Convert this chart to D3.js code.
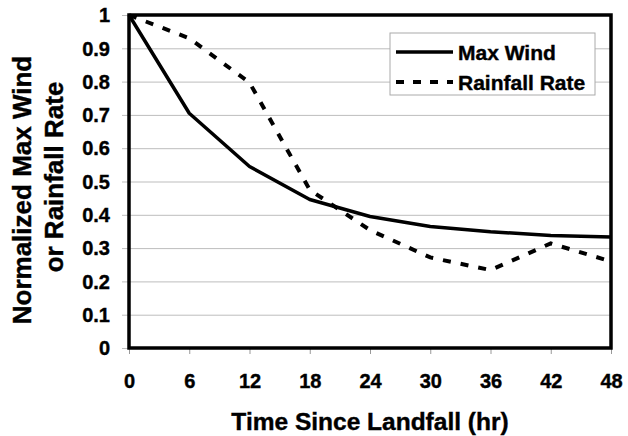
<!DOCTYPE html>
<html>
<head>
<meta charset="utf-8">
<script src="https://cdn.jsdelivr.net/npm/d3@7"></script>
<style>
  body { margin: 0; background: #fff; }
  text { font-family: "Liberation Sans", Arial, sans-serif; font-weight: bold; fill: #000; stroke: #000; stroke-width: 0.4px; }
</style>
</head>
<body>
<svg id="chart"></svg>
<script>
// data
const hours = [0, 6, 12, 18, 24, 30, 36, 42, 48];
const maxWind = [1.0, 0.705, 0.545, 0.446, 0.395, 0.365, 0.349, 0.338, 0.333];
const rainfallRate = [1.0, 0.93, 0.797, 0.475, 0.354, 0.272, 0.234, 0.314, 0.26];
const yTicks = [0, 0.1, 0.2, 0.3, 0.4, 0.5, 0.6, 0.7, 0.8, 0.9, 1];
const seriesNames = ['Max Wind', 'Rainfall Rate'];

const width = 628, height = 436;
const margin = { top: 15, right: 17, bottom: 88, left: 129 };
const innerW = width - margin.left - margin.right;
const innerH = height - margin.top - margin.bottom;

const svg = d3.select('#chart')
  .attr('width', width)
  .attr('height', height);

const x = d3.scaleLinear().domain([0, 48]).range([0, innerW]);
const y = d3.scaleLinear().domain([0, 1]).range([innerH, 0]);

const g = svg.append('g')
  .attr('transform', `translate(${margin.left},${margin.top})`);

// gridlines + left tick marks
g.append('g')
  .call(d3.axisLeft(y).tickValues(yTicks).tickSize(-innerW - 7).tickFormat(''))
  .attr('transform', 'translate(-7,0)')
  .call(a => a.select('.domain').remove())
  .call(a => a.selectAll('line').attr('stroke', '#bdbdbd').attr('stroke-width', 1));

// y tick labels
g.append('g')
  .selectAll('text')
  .data(yTicks)
  .join('text')
  .attr('x', -19)
  .attr('y', d => y(d))
  .attr('dy', '0.36em')
  .attr('text-anchor', 'end')
  .style('font-size', '20px')
  .text(d => d3.format('~g')(d));

// x axis ticks + labels
g.append('g')
  .attr('transform', `translate(0,${innerH})`)
  .call(d3.axisBottom(x).tickValues(hours).tickSize(6).tickPadding(20).tickFormat(d3.format('d')))
  .call(a => a.select('.domain').remove())
  .call(a => a.selectAll('line').attr('stroke', '#999').attr('stroke-width', 1))
  .call(a => a.selectAll('text')
    .style('font-size', '20px')
    .style('font-family', '"Liberation Sans", Arial, sans-serif')
    .style('font-weight', 'bold')
    .attr('fill', '#000'));

// lines
const line = d3.line()
  .x((d, i) => x(hours[i]))
  .y(d => y(d));

g.append('path')
  .datum(maxWind)
  .attr('d', line)
  .attr('fill', 'none')
  .attr('stroke', '#000')
  .attr('stroke-width', 3.5)
  .attr('stroke-linejoin', 'round');

g.append('path')
  .datum(rainfallRate)
  .attr('d', line)
  .attr('fill', 'none')
  .attr('stroke', '#000')
  .attr('stroke-width', 4)
  .attr('stroke-dasharray', '8,10');

// plot frame
g.append('rect')
  .attr('x', 0)
  .attr('y', 0)
  .attr('width', innerW)
  .attr('height', innerH)
  .attr('fill', 'none')
  .attr('stroke', '#000')
  .attr('stroke-width', 3.5);

// legend
const legend = svg.append('g').attr('transform', 'translate(390,33)');
legend.append('rect')
  .attr('width', 205)
  .attr('height', 62)
  .attr('fill', '#fff')
  .attr('stroke', '#aaa')
  .attr('stroke-width', 1);

const legendRows = legend.selectAll('g.row')
  .data(seriesNames)
  .join('g')
  .attr('class', 'row')
  .attr('transform', (d, i) => `translate(0,${19 + i * 30})`);

legendRows.append('line')
  .attr('x1', 6)
  .attr('x2', 63)
  .attr('stroke', '#000')
  .attr('stroke-width', (d, i) => i === 0 ? 3.5 : 4)
  .attr('stroke-dasharray', (d, i) => i === 0 ? null : '8,9');

legendRows.append('text')
  .attr('x', 68)
  .attr('dy', '0.36em')
  .style('font-size', '21px')
  .text(d => d);

// axis titles
svg.append('text')
  .attr('x', margin.left + innerW / 2)
  .attr('y', 430)
  .attr('text-anchor', 'middle')
  .style('font-size', '24.5px')
  .text('Time Since Landfall (hr)');

const yTitle = [
  { text: 'Normalized Max Wind', cx: 22, cy: 190 },
  { text: 'or Rainfall Rate', cx: 54, cy: 177 }
];
svg.selectAll('text.ytitle')
  .data(yTitle)
  .join('text')
  .attr('class', 'ytitle')
  .attr('transform', d => `translate(${d.cx},${d.cy}) rotate(-90)`)
  .attr('dy', '0.36em')
  .attr('text-anchor', 'middle')
  .style('font-size', '26px')
  .text(d => d.text);
</script>
</body>
</html>
